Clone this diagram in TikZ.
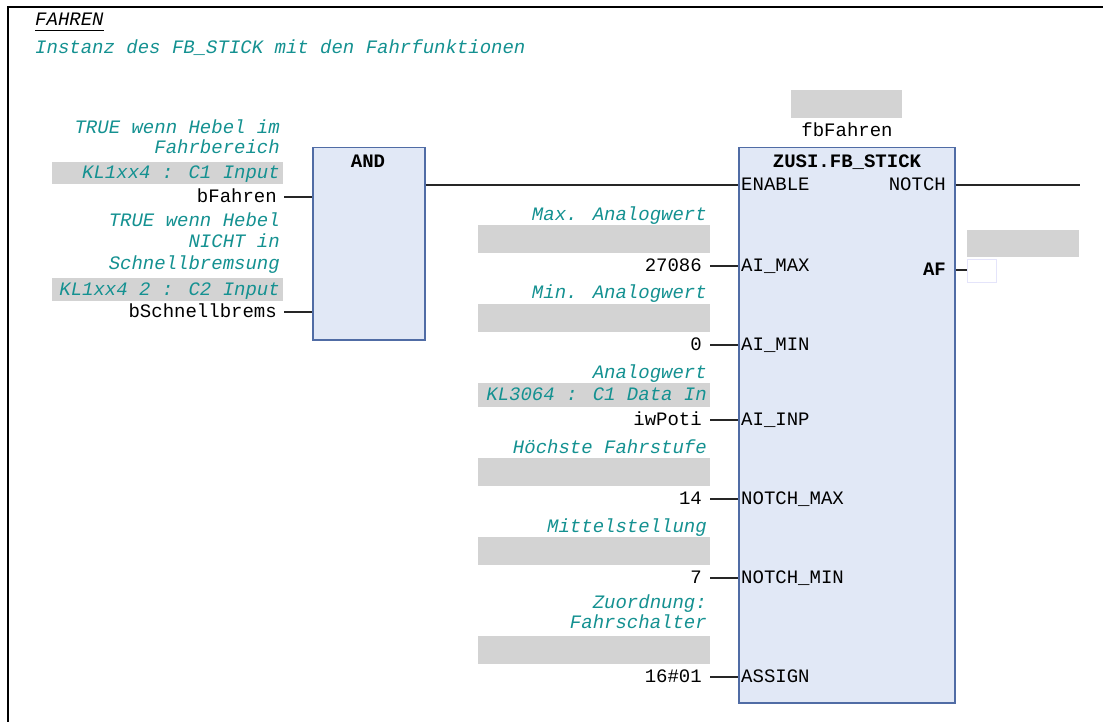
\documentclass[tikz,border=0pt]{standalone}
\usepackage{fontspec}
\setmainfont{Liberation Mono}
\setmonofont{Liberation Mono}
\definecolor{cmtc}{RGB}{20,145,145}
\definecolor{boxgray}{RGB}{211,211,211}
\definecolor{blkfill}{RGB}{225,232,246}
\definecolor{blkdraw}{RGB}{80,108,165}
\definecolor{lav}{RGB}{228,228,250}
\begin{document}
\begin{tikzpicture}[x=1pt,y=-1pt,
  txt/.style={font=\fontsize{19}{22}\selectfont, inner sep=0pt, text height=13pt, text depth=2pt},
  rtxt/.style={txt, anchor=east},
  ltxt/.style={txt, anchor=west},
  cmt/.style={rtxt, text=cmtc, font=\fontsize{19}{22}\selectfont\itshape},
  gbox/.style={fill=boxgray, draw=none, anchor=north west, inner sep=0pt},
  blk/.style={fill=blkfill, draw=blkdraw, line width=1.5pt, anchor=north west, inner sep=0pt},
  wire/.style={draw=black!85, line width=1.4pt},
  ttl/.style={txt, font=\fontsize{19}{22}\selectfont\bfseries}
]
\useasboundingbox (0,0) rectangle (1103,722);
\fill[white] (0,0) rectangle (1103,722);
% frame
\draw[line width=2.2pt] (1103,7) -- (8,7) -- (8,722);

% header
\node[ltxt, font=\fontsize{19}{22}\selectfont\itshape] (hdr) at (35,20) {FAHREN};
\draw[line width=1.3pt] ([yshift=-3pt]hdr.south west) -- ([yshift=-3pt]hdr.south east);
\node[ltxt, text=cmtc, font=\fontsize{19}{22}\selectfont\itshape] (desc) at (35,48) {Instanz des FB\_STICK mit den Fahrfunktionen};

% AND block
\node[blk, minimum width=112, minimum height=192] (and) at (312,147) {};
\node[ttl] (andt) at (368,162) {AND};

\node[cmt] (c1a) at (280,128) {TRUE wenn Hebel im};
\node[cmt] (c1b) at (280,148) {Fahrbereich};
\node[gbox, minimum width=231, minimum height=22] (g1) at (52,162) {};
\node[cmt] (g1t) at (280,173) {KL1xx4 : C1 Input};
\node[rtxt] (bF) at (277,197) {bFahren};

\node[cmt] (c2a) at (280,221) {TRUE wenn Hebel};
\node[cmt] (c2b) at (280,242) {NICHT in};
\node[cmt] (c2c) at (280,264) {Schnellbremsung};
\node[gbox, minimum width=231, minimum height=23] (g2) at (52,278) {};
\node[cmt] (g2t) at (280,290) {KL1xx4 2 : C2 Input};
\node[rtxt] (bS) at (277,312) {bSchnellbrems};

\draw[wire] ([xshift=7pt]bF.east) -- (bF -| and.west);
\draw[wire] ([xshift=7pt]bS.east) -- (bS -| and.west);

% FB_STICK block
\node[gbox, minimum width=111, minimum height=28] (ginst) at (791,90) {};
\node[txt] (inst) at (847,131) {fbFahren};
\node[blk, minimum width=216, minimum height=555] (fb) at (738,147) {};
\node[ttl] (fbt) at (847,162) {ZUSI.FB\_STICK};

\node[ltxt] (pEN) at (741,185) {ENABLE};
\node[ltxt] (pMAX) at (741,266) {AI\_MAX};
\node[ltxt] (pMIN) at (741,345) {AI\_MIN};
\node[ltxt] (pINP) at (741,420) {AI\_INP};
\node[ltxt] (pNMX) at (741,499) {NOTCH\_MAX};
\node[ltxt] (pNMN) at (741,578) {NOTCH\_MIN};
\node[ltxt] (pAS) at (741,677) {ASSIGN};
\node[rtxt] (pNO) at (946,185) {NOTCH};
\node[rtxt, font=\fontsize{19}{22}\selectfont\bfseries] (pAF) at (946,270) {AF};

% AND -> ENABLE
\draw[wire] (and.east |- pEN) -- (fb.west |- pEN);
% NOTCH output
\coordinate (nout) at (1080,185);
\draw[wire] (fb.east |- pNO) -- (nout);
% AF output
\node[gbox, minimum width=112, minimum height=27] (gaf) at (967,230) {};
\node[draw=lav, fill=white, line width=1pt, anchor=north west, inner sep=0pt, minimum width=29, minimum height=23] (afbox) at (967,259) {};
\draw[wire] (fb.east |- pAF) -- (afbox.west |- pAF);

% inputs of FB_STICK
\node[cmt] (cm1) at (707,215) {Max. Analogwert};
\node[gbox, minimum width=232, minimum height=28] (gm1) at (478,225) {};
\node[rtxt] (vMAX) at (702,266) {27086};

\node[cmt] (cm2) at (707,293) {Min. Analogwert};
\node[gbox, minimum width=232, minimum height=28] (gm2) at (478,304) {};
\node[rtxt] (vMIN) at (702,345) {0};

\node[cmt] (cm3) at (707,373) {Analogwert};
\node[gbox, minimum width=232, minimum height=24] (gm3) at (478,383) {};
\node[cmt] (gm3t) at (707,395) {KL3064 : C1 Data In};
\node[rtxt] (vINP) at (702,420) {iwPoti};

\node[cmt] (cm4) at (707,448) {Höchste Fahrstufe};
\node[gbox, minimum width=232, minimum height=28] (gm4) at (478,458) {};
\node[rtxt] (vNMX) at (702,499) {14};

\node[cmt] (cm5) at (707,527) {Mittelstellung};
\node[gbox, minimum width=232, minimum height=28] (gm5) at (478,537) {};
\node[rtxt] (vNMN) at (702,578) {7};

\node[cmt] (cm6a) at (707,603) {Zuordnung:};
\node[cmt] (cm6b) at (707,623) {Fahrschalter};
\node[gbox, minimum width=232, minimum height=28] (gm6) at (478,636) {};
\node[rtxt] (vAS) at (702,677) {16\#01};

\foreach \v in {vMAX,vMIN,vINP,vNMX,vNMN,vAS}{
  \draw[wire] ([xshift=8pt]\v.east) -- (fb.west |- \v);
}
\end{tikzpicture}
\end{document}
